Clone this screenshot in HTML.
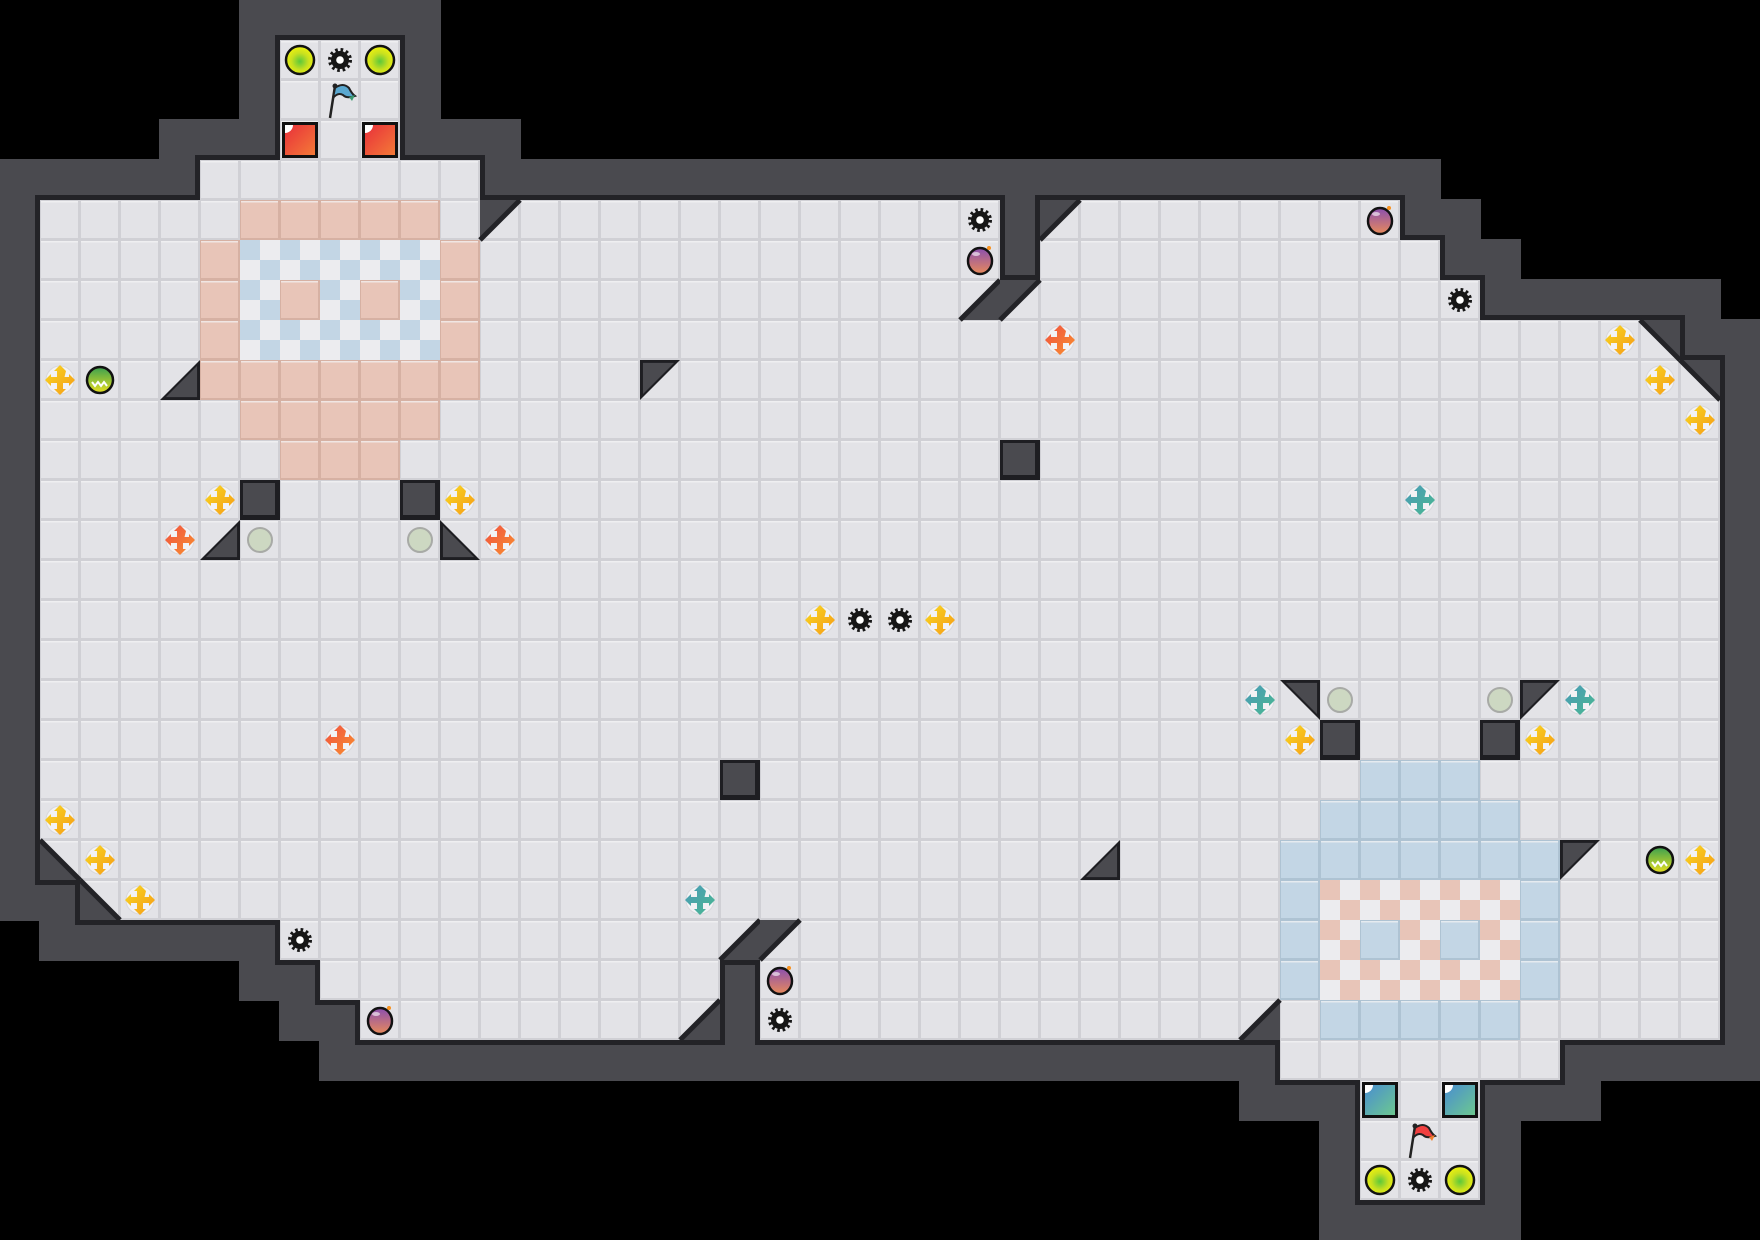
<!DOCTYPE html>
<html><head><meta charset="utf-8"><style>
html,body{margin:0;padding:0;background:#000;width:1760px;height:1240px;overflow:hidden}
svg{display:block}
</style></head><body>
<svg id="s" xmlns="http://www.w3.org/2000/svg" width="1760" height="1240" viewBox="0 0 1760 1240">
<defs>
<radialGradient id="yg" cx="50%" cy="55%" r="50%"><stop offset="0" stop-color="#5cc83a"/><stop offset="0.6" stop-color="#c8e020"/><stop offset="1" stop-color="#e8f010"/></radialGradient>
<linearGradient id="bombg" x1="0" y1="0" x2="0" y2="1"><stop offset="0" stop-color="#8a4fb0"/><stop offset="1" stop-color="#e88a5a"/></linearGradient>
<linearGradient id="redg" x1="0" y1="0" x2="1" y2="1"><stop offset="0" stop-color="#e8303a"/><stop offset="1" stop-color="#f47a38"/></linearGradient>
<linearGradient id="tealg" x1="0" y1="0" x2="1" y2="1"><stop offset="0" stop-color="#4a8ed0"/><stop offset="1" stop-color="#6cc890"/></linearGradient>
<linearGradient id="stg" x1="0" y1="0" x2="0" y2="1"><stop offset="0" stop-color="#3aa050"/><stop offset="1" stop-color="#e8e020"/></linearGradient>
<linearGradient id="ylw" x1="0" y1="0" x2="1" y2="1"><stop offset="0" stop-color="#f8d820"/><stop offset="1" stop-color="#f59a18"/></linearGradient>
<linearGradient id="org" x1="0" y1="0" x2="1" y2="1"><stop offset="0" stop-color="#f05040"/><stop offset="1" stop-color="#f89030"/></linearGradient>
<linearGradient id="tel" x1="0" y1="0" x2="1" y2="1"><stop offset="0" stop-color="#4a9ab8"/><stop offset="1" stop-color="#4ab890"/></linearGradient>
<g id="gear"><circle r="9" fill="#161616"/><circle r="9.5" fill="none" stroke="#161616" stroke-width="5" stroke-dasharray="2.4 2.6"/><circle r="3.8" fill="#fff"/></g>
<g id="bomb"><ellipse cx="0" cy="1" rx="12" ry="13" fill="url(#bombg)" stroke="#111" stroke-width="2.5"/><ellipse cx="-4" cy="-6" rx="4" ry="2" fill="#fff" opacity="0.6"/><circle cx="9" cy="-12" r="2" fill="#f7901e"/></g>
<g id="pale"><circle r="12" fill="#cdd8c2" stroke="#a8aaa6" stroke-width="2"/></g>
<g id="yball"><circle r="14" fill="url(#yg)" stroke="#111" stroke-width="2.5"/></g>
<g id="sball"><circle r="13" fill="url(#stg)" stroke="#111" stroke-width="2.5"/><path d="M-8 2 l3 4 l3 -4 l3 4 l3 -4 l3 4" fill="none" stroke="#fff" stroke-width="2"/></g>
<g id="redb"><rect x="-18" y="-18" width="36" height="36" fill="#111"/><rect x="-15" y="-15" width="30" height="30" fill="url(#redg)"/><path d="M-15 -15 h8 a8 8 0 0 1 -8 8z" fill="#fff"/></g>
<g id="tealb"><rect x="-18" y="-18" width="36" height="36" fill="#111"/><rect x="-15" y="-15" width="30" height="30" fill="url(#tealg)"/><path d="M-15 -15 h8 a8 8 0 0 1 -8 8z" fill="#fff"/></g>
<g id="arrY"><circle r="14" fill="#f2f2f4" stroke="#d8d8dc"/><path d="M-3-9h6v6h6v-3l6 6-6 6v-3h-6v6h6-6v0h0v0M3 3v6h3l-6 6-6-6h3v-6h-6v3l-6-6 6-6v3h6v-6h-3l6-6 6 6z" fill="url(#ylw)"/></g>
<g id="arrO"><circle r="14" fill="#f2f2f4" stroke="#d8d8dc"/><path d="M-3-9h6v6h6v-3l6 6-6 6v-3h-6v6h6-6v0h0v0M3 3v6h3l-6 6-6-6h3v-6h-6v3l-6-6 6-6v3h6v-6h-3l6-6 6 6z" fill="url(#org)"/></g>
<g id="arrT"><circle r="14" fill="#f2f2f4" stroke="#d8d8dc"/><path d="M-3-9h6v6h6v-3l6 6-6 6v-3h-6v6h6-6v0h0v0M3 3v6h3l-6 6-6-6h3v-6h-6v3l-6-6 6-6v3h6v-6h-3l6-6 6 6z" fill="url(#tel)"/></g>
<g id="flagB"><path d="M-10 18 L-5 -14" stroke="#222" stroke-width="2.5"/><circle cx="-5" cy="-14" r="2.5" fill="#222"/><path d="M-5 -12 q8 -6 14 0 q3 6 6 8 q-8 3 -12 -1 q-5 -3 -10 3z" fill="#5aa8d0" stroke="#222" stroke-width="2"/><path d="M9 -3 l6 -2 l-3 6z" fill="#3a9a70"/></g>
<g id="flagR"><path d="M-10 18 L-5 -14" stroke="#222" stroke-width="2.5"/><circle cx="-5" cy="-14" r="2.5" fill="#222"/><path d="M-5 -12 q8 -6 14 0 q3 6 6 8 q-8 3 -12 -1 q-5 -3 -10 3z" fill="#f04040" stroke="#222" stroke-width="2"/><path d="M9 -3 l6 -2 l-3 6z" fill="#f08030"/></g>
</defs>
<g id="L"></g>
</svg>
<script>
(function(){
var T=40,L=document.getElementById("L");
var out=[];
function add(s){out.push(s);}
var F={};
function fl(r,a,b){for(var c=a;c<=b;c++)F[c+","+r]="F";}
[[1,7,9],[2,7,9],[3,7,9],[4,5,11],[5,1,11],[5,13,24],[5,27,34],[6,1,24],[6,26,35],[7,1,23],[7,26,36],[8,1,40],[9,1,41],
[21,2,42],[22,3,42],[23,7,17],[23,20,42],[24,8,17],[24,19,42],[25,9,16],[25,19,30],[25,32,42],[26,32,38],[27,34,36],[28,34,36],[29,34,36]].forEach(function(a){fl(a[0],a[1],a[2]);});
for(var r=10;r<=20;r++)fl(r,1,42);
var H=[[12,5,'UL'],[26,5,'UL'],[24,7,'LR'],[25,7,'UL'],[41,8,'UR'],[42,9,'UR'],[1,21,'LL'],[2,22,'LL'],[18,23,'LR'],[19,23,'UL'],[17,25,'LR'],[31,25,'LR']];
H.forEach(function(h){F[h[0]+","+h[1]]="H";});
function isF(c,r){return !!F[c+","+r];}
var W={};
for(var k in F){var p=k.split(",").map(Number);
 for(var dx=-1;dx<=1;dx++)for(var dy=-1;dy<=1;dy++){var kk=(p[0]+dx)+","+(p[1]+dy);if(!F[kk])W[kk]=1;}}
for(var k in W){var p=k.split(",").map(Number);add('<rect x="'+(p[0]*T-1)+'" y="'+(p[1]*T-1)+'" width="42" height="42" fill="#4a4a4f"/>');}
// edges first (floor drawn over overlaps)
for(var k in F){var p=k.split(","),c=+p[0],r=+p[1],x=c*T,y=r*T;
 if(!isF(c-1,r))add('<rect x="'+(x-5)+'" y="'+(y-5)+'" width="5" height="50" fill="#232327"/>');
 if(!isF(c+1,r))add('<rect x="'+(x+40)+'" y="'+(y-5)+'" width="5" height="50" fill="#232327"/>');
 if(!isF(c,r-1))add('<rect x="'+(x-5)+'" y="'+(y-5)+'" width="50" height="5" fill="#232327"/>');
 if(!isF(c,r+1))add('<rect x="'+(x-5)+'" y="'+(y+40)+'" width="50" height="5" fill="#232327"/>');
}
function colorAt(c,r){
 if(r==5&&c>=6&&c<=10)return"S";
 if(r>=6&&r<=8){if(c==5||c==11)return"S";if(c>=6&&c<=10){if(r==7&&(c==7||c==9))return"S";return"CB";}}
 if(r==9&&c>=5&&c<=11)return"S";
 if(r==10&&c>=6&&c<=10)return"S";
 if(r==11&&c>=7&&c<=9)return"S";
 if(r==19&&c>=34&&c<=36)return"B";
 if(r==20&&c>=33&&c<=37)return"B";
 if(r==21&&c>=32&&c<=38)return"B";
 if(r>=22&&r<=24){if(c==32||c==38)return"B";if(c>=33&&c<=37){if(r==23&&(c==34||c==36))return"B";return"CS";}}
 if(r==25&&c>=33&&c<=37)return"B";
 return"";
}
var base={"":["#d0d0d5","#e3e3e7"],"S":["#d6b1a3","#e8c5b8"],"B":["#aec3d3","#c3d6e5"]};
for(var k in F){var p=k.split(","),c=+p[0],r=+p[1],x=c*T,y=r*T,t=colorAt(c,r);
 var b=base[t]||base[""];
 add('<rect x="'+x+'" y="'+y+'" width="40" height="40" fill="'+b[0]+'"/><rect x="'+(x+1)+'" y="'+(y+1)+'" width="37" height="37" fill="'+b[1]+'"/><rect x="'+(x+1)+'" y="'+(y+1)+'" width="37" height="1.5" fill="#f3f3f5" opacity="0.7"/>');
 if(t=="CB"||t=="CS"){var cc=t=="CB"?"#c3d6e5":"#e8c5b8",wc="#ececef";
  add('<rect x="'+x+'" y="'+y+'" width="40" height="40" fill="'+wc+'"/><rect x="'+x+'" y="'+y+'" width="20" height="20" fill="'+cc+'"/><rect x="'+(x+20)+'" y="'+(y+20)+'" width="20" height="20" fill="'+cc+'"/>');}
}
H.forEach(function(h){var x=h[0]*T,y=h[1]*T,pts,ln;
 if(h[2]=='UL'){pts=[x,y,x+40,y,x,y+40];ln=[x+40,y,x,y+40];}
 if(h[2]=='UR'){pts=[x,y,x+40,y,x+40,y+40];ln=[x,y,x+40,y+40];}
 if(h[2]=='LL'){pts=[x,y,x,y+40,x+40,y+40];ln=[x,y,x+40,y+40];}
 if(h[2]=='LR'){pts=[x+40,y,x+40,y+40,x,y+40];ln=[x+40,y,x,y+40];}
 add('<polygon points="'+pts.join(",")+'" fill="#4a4a4f"/>');
 add('<line x1="'+ln[0]+'" y1="'+ln[1]+'" x2="'+ln[2]+'" y2="'+ln[3]+'" stroke="#232327" stroke-width="5"/>');
});
function blk(c,r){var x=c*T,y=r*T;add('<rect x="'+x+'" y="'+y+'" width="40" height="40" fill="#1e1e22"/><rect x="'+(x+3)+'" y="'+(y+3)+'" width="32" height="32" fill="#4a4a4f"/>');}
function tri(c,r,t){var x=c*T,y=r*T,pts;
 if(t=="BR")pts=[x+40,y,x+40,y+40,x,y+40];
 if(t=="BL")pts=[x,y,x,y+40,x+40,y+40];
 if(t=="TL")pts=[x,y,x+40,y,x,y+40];
 if(t=="TR")pts=[x,y,x+40,y,x+40,y+40];
 add('<polygon points="'+pts.join(",")+'" fill="#1e1e22"/>');
 var cx=(pts[0]+pts[2]+pts[4])/3,cy=(pts[1]+pts[3]+pts[5])/3,q=[];
 for(var i=0;i<6;i+=2){q.push(pts[i]+(cx-pts[i])*0.22,pts[i+1]+(cy-pts[i+1])*0.22);}
 add('<polygon points="'+q.join(",")+'" fill="#4a4a4f"/>');}
tri(4,9,"BR");tri(16,9,"TL");tri(5,13,"BR");tri(11,13,"BL");tri(32,17,"TR");tri(38,17,"TL");tri(27,21,"BR");tri(39,21,"TL");
blk(6,12);blk(10,12);blk(25,11);blk(18,19);blk(33,18);blk(37,18);
function use(id,c,r){add('<use href="#'+id+'" x="'+(c*T+20)+'" y="'+(r*T+20)+'"/>');}
[[1,9],[5,12],[11,12],[20,15],[23,15],[1,20],[2,21],[3,22],[40,8],[41,9],[42,10],[32,18],[38,18],[42,21]].forEach(function(a){use("arrY",a[0],a[1]);});
[[4,13],[12,13],[8,18],[26,8]].forEach(function(a){use("arrO",a[0],a[1]);});
[[35,12],[31,17],[39,17],[17,22]].forEach(function(a){use("arrT",a[0],a[1]);});
[[8,1],[21,15],[22,15],[24,5],[36,7],[7,23],[19,25],[35,29]].forEach(function(a){use("gear",a[0],a[1]);});
[[24,6],[34,5],[9,25],[19,24]].forEach(function(a){use("bomb",a[0],a[1]);});
[[6,13],[10,13],[33,17],[37,17]].forEach(function(a){use("pale",a[0],a[1]);});
[[2,9],[41,21]].forEach(function(a){use("sball",a[0],a[1]);});
[[7,1],[9,1],[34,29],[36,29]].forEach(function(a){use("yball",a[0],a[1]);});
use("redb",7,3);use("redb",9,3);use("tealb",34,27);use("tealb",36,27);
use("flagB",8,2);use("flagR",35,28);
L.innerHTML=out.join("");
})();
</script>
</body></html>
